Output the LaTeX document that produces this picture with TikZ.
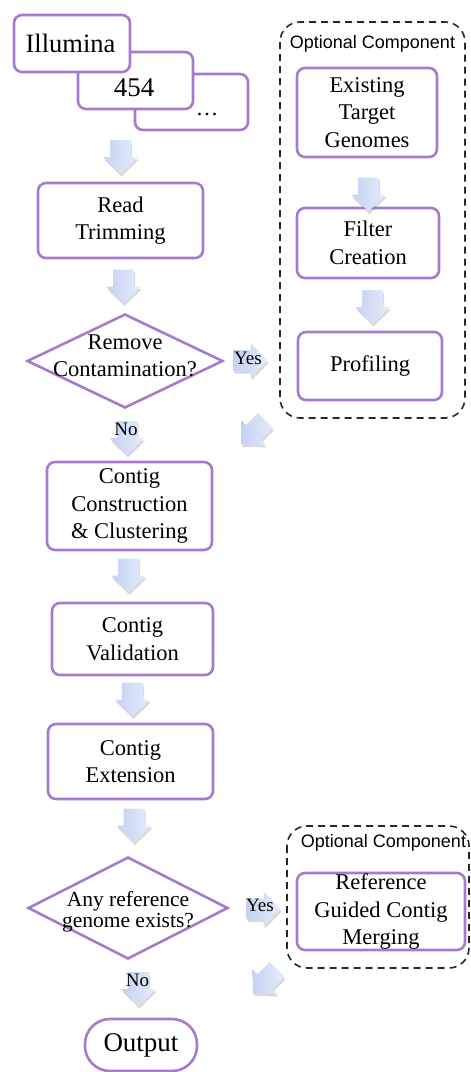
\documentclass[tikz,border=0pt]{standalone}
\usepackage{fontspec}
\setmainfont{Liberation Serif}
\newfontfamily\labelsans{Liberation Sans}
\usetikzlibrary{shapes.geometric,shadows}
\definecolor{boxpurple}{RGB}{168,122,204}
\definecolor{arrowblueA}{RGB}{196,210,242}
\definecolor{arrowblueB}{RGB}{230,236,250}
\definecolor{groupline}{RGB}{40,40,40}

\tikzset{
  stepbox/.style={draw=boxpurple, line width=2.6pt, rounded corners=8pt, fill=white,
    align=center, inner sep=0pt, font=\fontsize{22.5}{27.5}\selectfont},
  decision/.style={diamond, draw=boxpurple, line width=2.6pt, inner sep=0pt, fill=white},
  optgroup/.style={draw=groupline, line width=1.6pt, dash pattern=on 7pt off 5pt, rounded corners=20pt},
  grouptitle/.style={font=\labelsans\fontsize{18}{20}\selectfont, inner sep=0pt},
  flowtext/.style={align=center, inner sep=0pt, font=\fontsize{22.5}{27.5}\selectfont},
  answer/.style={inner sep=0pt, font=\fontsize{19}{22}\selectfont},
  flowarrow/.pic={
    \path[left color=arrowblueA, right color=arrowblueB,
          drop shadow={opacity=0.3, shadow xshift=1pt, shadow yshift=-2.5pt}]
      (-10.5,-17) -- (10.5,-17) -- (10.5,0) -- (17.5,0) -- (0,17)
      -- (-17.5,0) -- (-10.5,0) -- cycle;
  }
}

\begin{document}
\begin{tikzpicture}[x=1pt,y=-1pt]
\useasboundingbox (0,0) rectangle (471,1072);

% sequencing platforms, stacked cards
\node[stepbox, minimum width=113pt, minimum height=56pt] (moreBox) at (191.5,102) {};
\node[flowtext] (moreText) at (207,114) {\ldots};
\node[stepbox, minimum width=115pt, minimum height=57pt] (box454) at (135.5,80.5) {};
\node[flowtext, font=\fontsize{27}{30}\selectfont] (text454) at (134,88) {454};
\node[stepbox, minimum width=116pt, minimum height=57pt] (illuminaBox) at (72,43.5) {};
\node[flowtext, font=\fontsize{26.5}{30}\selectfont] (illuminaText) at (70.5,43) {Illumina};

% main pipeline
\node[stepbox, minimum width=165pt, minimum height=75pt] (trim) at (120.5,220.5) {Read\\Trimming};
\node[decision, minimum width=196pt, minimum height=94pt] (removeQ) at (125,361) {};
\node[flowtext] (removeText) at (125,356) {Remove\\Contamination?};
\node[stepbox, minimum width=165pt, minimum height=88pt] (construct) at (129.5,506) {Contig\\Construction\\\& Clustering};
\node[stepbox, minimum width=161pt, minimum height=72pt] (validate) at (132.5,639) {Contig\\Validation};
\node[stepbox, minimum width=165pt, minimum height=75pt] (extend) at (130.5,761.5) {Contig\\Extension};
\node[decision, minimum width=200pt, minimum height=102pt] (refQ) at (128,908) {};
\node[flowtext, font=\fontsize{21.5}{21}\selectfont] (refText) at (128,912) {Any reference\\genome exists?};
\node[stepbox, rounded corners=25pt, minimum width=112pt, minimum height=52pt,
      font=\fontsize{27}{30}\selectfont] (output) at (141,1045) {Output};

% optional contamination filter
\draw[optgroup] (280,22) rectangle (465,418);
\node[grouptitle] (optTitleA) at (372.5,44) {Optional Component};
\node[stepbox, minimum width=140pt, minimum height=89pt] (targets) at (367,112.5) {Existing\\Target\\Genomes};
\node[stepbox, minimum width=142pt, minimum height=70pt] (filter) at (368,243) {Filter\\Creation};
\node[stepbox, minimum width=144pt, minimum height=68pt] (profile) at (370,366) {Profiling};

% optional reference merging
\draw[optgroup] (287,826) rectangle (469,968);
\node[grouptitle] (optTitleB) at (383.5,843) {Optional Component};
\node[stepbox, minimum width=168pt, minimum height=77pt] (merge) at (381,911.5) {Reference\\Guided Contig\\Merging};

% flow arrows
\pic at (120.5,157) {flowarrow};
\pic at (123.5,286.5) {flowarrow};
\pic at (127,438) {flowarrow};
\pic at (128.5,575.5) {flowarrow};
\pic at (132.5,699.5) {flowarrow};
\pic at (134,825.5) {flowarrow};
\pic at (138.5,989) {flowarrow};
\pic at (368.5,194.5) {flowarrow};
\pic at (372.5,307) {flowarrow};
\pic[rotate=90] at (250.5,360.5) {flowarrow};
\pic[rotate=90] at (263.5,909) {flowarrow};
\pic[rotate=-45] at (253.5,432.5) {flowarrow};
\pic[rotate=-45] at (265,981.5) {flowarrow};

% branch labels
\node[answer] (yesA) at (248,358) {Yes};
\node[answer] (noA) at (126,429) {No};
\node[answer] (yesB) at (260,905) {Yes};
\node[answer] (noB) at (137.5,980) {No};
\end{tikzpicture}
\end{document}
